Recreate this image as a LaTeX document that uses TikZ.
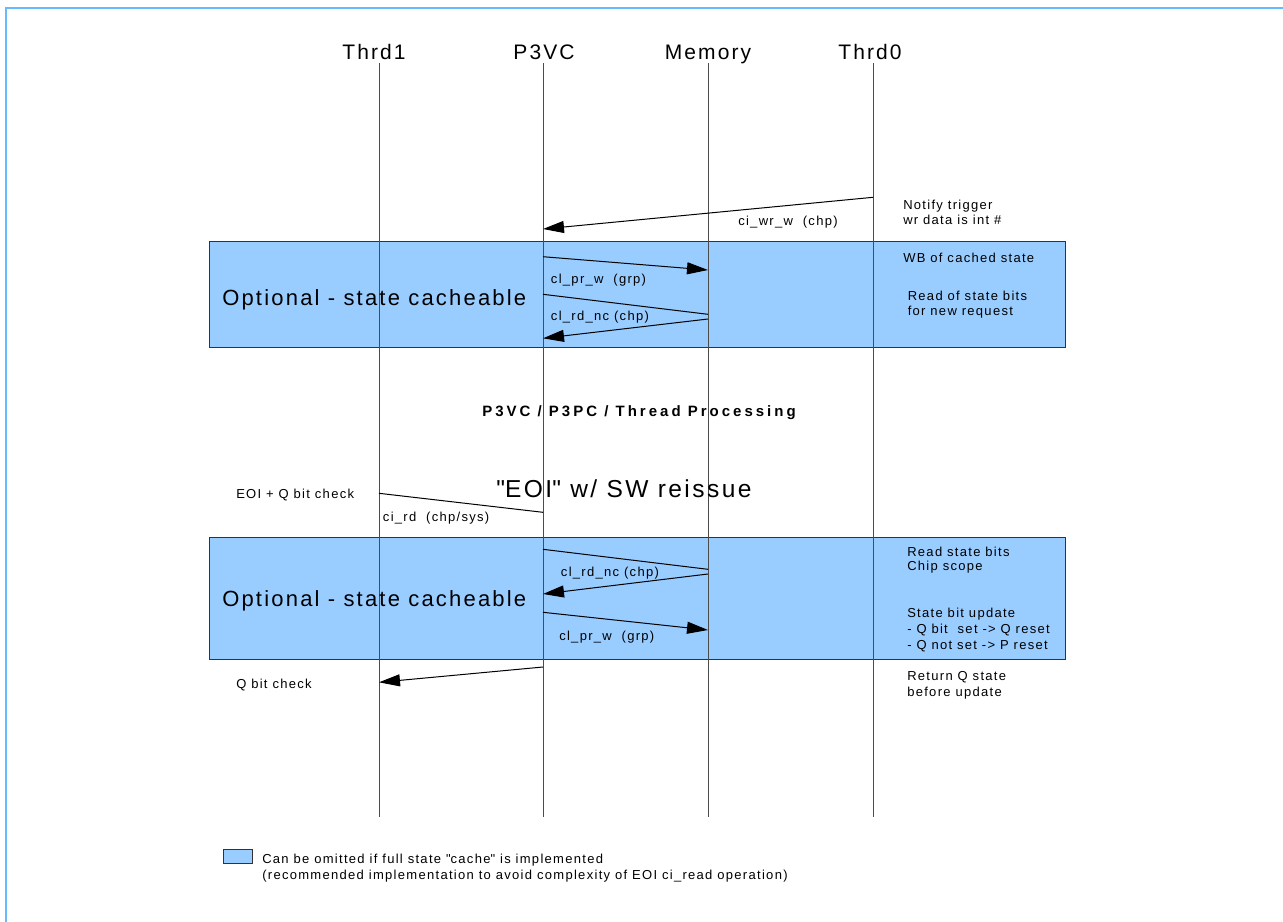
\documentclass[tikz,border=0pt]{standalone}
\usepackage{fontspec}
\setmainfont{Liberation Sans}[LetterSpace=10]
\newfontfamily\phasefont{Liberation Sans}[LetterSpace=20]
\usetikzlibrary{arrows.meta}
\definecolor{boxblue}{RGB}{153,204,255}
\definecolor{frameblue}{RGB}{102,187,255}
\begin{document}
\begin{tikzpicture}[x=0.75pt,y=-0.75pt,
  small/.style={font=\fontsize{9.75pt}{11.25pt}\selectfont, inner sep=0pt, anchor=base west},
  head/.style={font=\fontsize{15.75pt}{18pt}\selectfont, inner sep=0pt, anchor=base},
  big/.style={font=\fontsize{16.5pt}{19pt}\selectfont, inner sep=0pt, anchor=base west},
  huge/.style={font=\fontsize{18.4pt}{21pt}\selectfont, inner sep=0pt, anchor=base},
  phase/.style={font=\phasefont\fontsize{11.25pt}{13pt}\bfseries\selectfont, inner sep=0pt, anchor=base},
  lifeline/.style={draw=black!70, line width=0.75pt},
  msg/.style={draw=black, line width=0.75pt, -{Triangle[length=15.75pt,width=9pt]}},
  plainmsg/.style={draw=black, line width=0.75pt},
  optbox/.style={fill=boxblue, draw=black!80, line width=0.75pt}]
\useasboundingbox (0,0) rectangle (1283,922);
% frame
\draw[frameblue, line width=1.5pt] (6,922) -- (6,8) -- (1283,8);

% optional boxes
\path[optbox] (209,241.7) rectangle (1065,347.3);
\path[optbox] (209,537.3) rectangle (1065,659.3);

% lifeline headers
\node[head] (hT1) at (374,59.7) {Thrd1};
\node[head] (hVC) at (544,59.7) {P3VC};
\node[head] (hMem) at (708,59.7) {Memory};
\node[head] (hT0) at (870,59.7) {Thrd0};

% lifelines
\coordinate (T1top) at (379,63); \coordinate (T1bot) at (379,817);
\coordinate (VCtop) at (543,63); \coordinate (VCbot) at (543,817);
\coordinate (MEtop) at (708,63); \coordinate (MEbot) at (708,817);
\coordinate (T0top) at (873,63); \coordinate (T0bot) at (873,817);
\draw[lifeline] (T1top) -- (T1bot);
\draw[lifeline] (VCtop) -- (VCbot);
\draw[lifeline] (MEtop) -- (MEbot);
\draw[lifeline] (T0top) -- (T0bot);

% message end points
\coordinate (m1s) at (873,197.3); \coordinate (m1e) at (543,229);
\coordinate (m2s) at (543,256.7); \coordinate (m2e) at (708,270);
\coordinate (m3s) at (543,294.3); \coordinate (m3e) at (708,314.3);
\coordinate (m4s) at (708,319); \coordinate (m4e) at (543,338.3);
\coordinate (m5s) at (379,493.3); \coordinate (m5e) at (543,512.3);
\coordinate (m6s) at (543,549.3); \coordinate (m6e) at (708,569.3);
\coordinate (m7s) at (708,574); \coordinate (m7e) at (543,594);
\coordinate (m8s) at (543,612.3); \coordinate (m8e) at (708,630);
\coordinate (m9s) at (543,667); \coordinate (m9e) at (379,682.3);

\draw[msg] (m1s) -- (m1e);
\draw[msg] (m2s) -- (m2e);
\draw[plainmsg] (m3s) -- (m3e);
\draw[msg] (m4s) -- (m4e);
\draw[plainmsg] (m5s) -- (m5e);
\draw[plainmsg] (m6s) -- (m6e);
\draw[msg] (m7s) -- (m7e);
\draw[msg] (m8s) -- (m8e);
\draw[msg] (m9s) -- (m9e);

% message labels
\node[small] (l1) at (738,225.7) {ci\_wr\_w\ \ (chp)};
\node[small] (l2) at (550.7,283) {cl\_pr\_w\ \ (grp)};
\node[small] (l3) at (550.7,320.7) {cl\_rd\_nc (chp)};
\node[small] (l5) at (382.7,521.7) {ci\_rd\ \ (chp/sys)};
\node[small] (l6) at (560.7,576.7) {cl\_rd\_nc (chp)};
\node[small] (l7) at (559,640) {cl\_pr\_w\ \ (grp)};

% box titles
\node[big] (o1) at (222,305) {Optional - state cacheable};
\node[big] (o2) at (222,606) {Optional - state cacheable};

% centre texts
\node[phase] (ph) at (639,416) {P3VC / P3PC / Thread Processing};
\node[huge] (eoi) at (624,497) {\textquotedbl EOI\textquotedbl\ w/ SW reissue};

% left notes
\node[small] (n5) at (236,498.3) {EOI + Q bit check};
\node[small] (n9) at (236,688.3) {Q bit check};

% right notes
\node[small] (r1a) at (903,209.3) {Notify trigger};
\node[small] (r1b) at (903,224.3) {wr data is int \#};
\node[small] (r2) at (903,262) {WB of cached state};
\node[small] (r3a) at (907.5,300.7) {Read of state bits};
\node[small] (r3b) at (907.5,315.5) {for new request};
\node[small] (r4a) at (907,556) {Read state bits};
\node[small] (r4b) at (907,570.7) {Chip scope};
\node[small] (r5a) at (907,617) {State bit update};
\node[small] (r5b) at (907,633) {- Q bit\ \ set -> Q reset};
\node[small] (r5c) at (907,649) {- Q not set -> P reset};
\node[small] (r6a) at (907,680.7) {Return Q state};
\node[small] (r6b) at (907,696.7) {before update};

% legend
\path[optbox] (223.3,849) rectangle (252,863);
\node[small] (lg1) at (262,863) {Can be omitted if full state \textquotedbl cache\textquotedbl\ is implemented};
\node[small] (lg2) at (262,879) {(recommended implementation to avoid complexity of EOI ci\_read operation)};
\end{tikzpicture}
\end{document}
